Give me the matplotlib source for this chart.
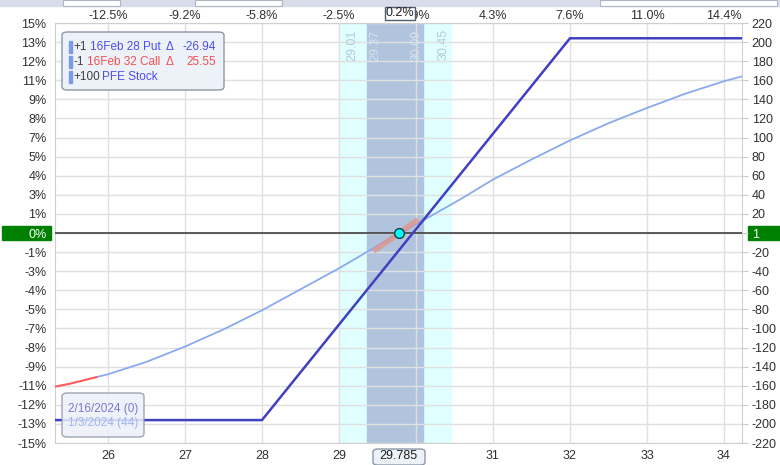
import matplotlib.pyplot as plt
from matplotlib.patches import Rectangle, FancyBboxPatch

plt.rcParams['font.family'] = ['Liberation Sans', 'DejaVu Sans']

# expiration P&L (2/16/2024)
exp_prices = [25.31, 28.0, 32.0, 34.23]
exp_pnl = [-196, -196, 204, 204]

# T+0 P&L (1/3/2024)
t0_prices = [25.31, 25.5, 25.85, 26.0, 26.5, 27.0, 27.5, 28.0, 28.5, 29.0, 29.785, 30.0, 30.57,
             31.0, 31.5, 32.0, 32.5, 33.0, 33.5, 34.0, 34.23]
t0_pnl = [-161, -158, -151, -148, -135, -119, -101, -81, -59, -37, 0, 9, 35,
          56, 77, 97, 115, 131, 146, 159, 164]
red_n = 3  # first points drawn in red

# delta tangent at current price
tan_prices = [29.45, 30.03]
tan_pnl = [-19, 14]
spot = 29.785

outer_band = (29.01, 30.45)
inner_band = (29.37, 30.09)

price_ticks = [26, 27, 28, 29, 30, 31, 32, 33, 34]
price_labels = ['26', '27', '28', '29', '30', '31', '32', '33', '34']
pct_labels = ['-12.5%', '-9.2%', '-5.8%', '-2.5%', '0.9%', '4.3%', '7.6%', '11.0%', '14.4%']
pnl_ticks = list(range(-220, 221, 20))
left_labels = ['-15%', '-13%', '-12%', '-11%', '-9%', '-8%', '-7%', '-5%', '-4%', '-3%', '-1%', '0%',
               '1%', '3%', '4%', '5%', '7%', '8%', '9%', '11%', '12%', '13%', '15%']
right_labels = ['-220', '-200', '-180', '-160', '-140', '-120', '-100', '-80', '-60', '-40', '-20', '1',
                '20', '40', '60', '80', '100', '120', '140', '160', '180', '200', '220']

legend_rows = [
    ('+1', '16Feb 28 Put', '-26.94', '#4d4df0'),
    ('-1', '16Feb 32 Call', '25.55', '#f05050'),
    ('+100', 'PFE Stock', None, '#4d4df0'),
]
legend_name_x = [90, 87, 102]
date_rows = [('2/16/2024 (0)', '#7a7ad0'), ('1/3/2024 (44)', '#9fb6ee')]

W, H = 780, 465


def fx(x):
    return x / W


def fy(y):
    return 1 - y / H


fig = plt.figure(figsize=(7.8, 4.65), dpi=100)
ax = fig.add_axes([fx(55), fy(443), (742 - 55) / W, (443 - 23) / H])
x0, x1 = 25.312, 34.234
ax.set_xlim(x0, x1)
ax.set_ylim(-220, 220)

# bands
ax.axvspan(*outer_band, color='#e0ffff', zorder=0)
ax.axvspan(*inner_band, color='#b0c4de', zorder=0)
ax.grid(True, color='#e0e0e0', lw=1, zorder=1)
ax.set_axisbelow(True)

band_txt = dict(rotation=90, va='top', fontsize=9, transform=ax.get_xaxis_transform(), zorder=2)
ax.text(outer_band[0] + 0.08, 0.985, f'{outer_band[0]:.2f}', ha='left', color='#b4cad8', **band_txt)
ax.text(inner_band[0] + 0.02, 0.985, f'{inner_band[0]:.2f}', ha='left', color='#d8e2ee', **band_txt)
ax.text(inner_band[1] - 0.01, 0.985, f'{inner_band[1]:.2f}', ha='right', color='#d8e2ee', **band_txt)
ax.text(outer_band[1] - 0.02, 0.985, f'{outer_band[1]:.2f}', ha='right', color='#b4cad8', **band_txt)

ax.axhline(0, color='#404040', lw=1.2, zorder=3)

ax.plot(t0_prices[red_n - 1:], t0_pnl[red_n - 1:], color='#8aaaf0', lw=1.3, zorder=4)
ax.plot(t0_prices[:red_n], t0_pnl[:red_n], color='#ff5a5a', lw=1.5, zorder=4)
ax.plot(exp_prices, exp_pnl, color='#4040c0', lw=1.8, zorder=5)
ax.plot(tan_prices, tan_pnl, color='#e8907f', lw=4, alpha=0.7, solid_capstyle='butt', zorder=6)
ax.plot([spot], [0], 'o', ms=7, mfc='#00ffff', mec='#104040', mew=1, zorder=7)

for s in ax.spines.values():
    s.set_color('#d0d0d0')

ax.set_xticks(price_ticks)
ax.set_xticklabels(price_labels)
ax.set_yticks(pnl_ticks)
ax.set_yticklabels(left_labels)
ax.tick_params(axis='both', length=0, labelsize=9, colors='#303030')
ax.tick_params(axis='y', pad=6)
ax.tick_params(axis='x', pad=5)
ax.get_yticklabels()[pnl_ticks.index(0)].set_color('white')

ax2 = ax.twinx()
ax2.set_ylim(-220, 220)
ax2.set_yticks(pnl_ticks)
ax2.set_yticklabels(right_labels)
ax2.tick_params(axis='y', length=4, color='#c8c8c8', labelsize=9, labelcolor='#303030', pad=3)
ax2.get_yticklabels()[pnl_ticks.index(0)].set_color('white')
for s in ax2.spines.values():
    s.set_visible(False)

ax3 = ax.twiny()
ax3.set_xlim(x0, x1)
ax3.set_xticks(price_ticks)
ax3.set_xticklabels(pct_labels)
ax3.tick_params(axis='x', length=0, labelsize=9, colors='#303030', pad=1)
for s in ax3.spines.values():
    s.set_visible(False)

# window chrome at the very top
fig.add_artist(Rectangle((0, fy(6)), 1, 6 / H, transform=fig.transFigure, color='#d9dcea', zorder=-1))
for a, b in [(63, 120), (195, 282), (600, 777)]:
    fig.add_artist(Rectangle((fx(a), fy(6)), (b - a) / W, 6 / H, transform=fig.transFigure,
                             fc='white', ec='#b0b4c0', lw=0.8, zorder=-1))

# green zero markers
fig.add_artist(Rectangle((fx(2), fy(240)), 49 / W, 14 / H, transform=fig.transFigure, color='#008000', zorder=-1))
fig.add_artist(Rectangle((fx(748), fy(240)), 32 / W, 14 / H, transform=fig.transFigure, color='#008000', zorder=-1))

# legend box
fig.add_artist(FancyBboxPatch((fx(62), fy(90)), 162 / W, 58 / H, boxstyle='round,pad=0,rounding_size=0.007',
                              transform=fig.transFigure, fc='#edf2f9', ec='#8c98a6', lw=1, zorder=10))
for i, (qty, name, delta, col) in enumerate(legend_rows):
    y = fy(47 + i * 15)
    fig.add_artist(Rectangle((fx(69), y - 6 / H), 3 / W, 12 / H, transform=fig.transFigure,
                             color='#7b9be8', zorder=11))
    fig.text(fx(73), y, qty, color='#404040', fontsize=8.5, va='center', zorder=12)
    fig.text(fx(legend_name_x[i]), y, name, color=col, fontsize=8.5, va='center', zorder=12)
    if delta is not None:
        fig.text(fx(166), y, '\u0394', color=col, fontsize=8.5, va='center', zorder=12)
        fig.text(fx(216), y, delta, color=col, fontsize=8.5, va='center', ha='right', zorder=12)

# date box
fig.add_artist(FancyBboxPatch((fx(62), fy(437)), 82 / W, 44 / H, boxstyle='round,pad=0,rounding_size=0.007',
                              transform=fig.transFigure, fc='#edf2f9', ec='#8c98a6', lw=1, alpha=0.85, zorder=10))
for i, (txt, col) in enumerate(date_rows):
    fig.text(fx(103), fy(409 + i * 14), txt, color=col, fontsize=8.5, ha='center', va='center', zorder=12)

# current price / percent boxes
fig.add_artist(FancyBboxPatch((fx(373), fy(465)), 52 / W, 16 / H, boxstyle='round,pad=0,rounding_size=0.006',
                              transform=fig.transFigure, fc='#edf2f9', ec='#8c98a6', lw=1, zorder=10))
fig.text(fx(398), fy(456), f'{spot:.3f}', color='#202020', fontsize=9, ha='center', va='center', zorder=12)
fig.add_artist(Rectangle((fx(385), fy(20)), 30 / W, 13 / H, transform=fig.transFigure,
                         fc='white', ec='#506070', lw=1, zorder=10))
fig.text(fx(400), fy(13.5), '0.2%', color='#202020', fontsize=9, ha='center', va='center', zorder=12)

fig.savefig('out.png', dpi=100)
